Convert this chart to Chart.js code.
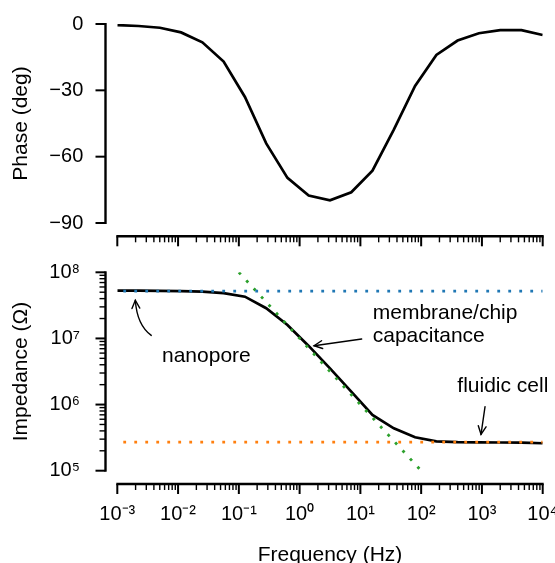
<!DOCTYPE html>
<html>
<head>
<meta charset="utf-8">
<script src="https://cdn.jsdelivr.net/npm/chart.js@4.4.1/dist/chart.umd.min.js"></script>
<style>
  html, body { margin: 0; padding: 0; background: #fff; overflow: hidden; }
  #wrap { position: relative; width: 555px; height: 563px; }
  canvas { position: absolute; left: 0; }
  #phase { top: 0; }
  #imped { top: 250px; }
</style>
</head>
<body>
<div id="wrap">
  <canvas id="phase" width="555" height="250"></canvas>
  <canvas id="imped" width="555" height="320"></canvas>
</div>
<script>
// measured spectrum (Hz)
const freqs = [0.001, 0.00224, 0.00501, 0.0112, 0.0251, 0.0562, 0.126, 0.282, 0.631,
  1.41, 3.16, 7.08, 15.8, 35.5, 79.4, 178, 398, 891, 2000, 4470, 10000];
const phaseDeg = [-0.5, -0.9, -1.7, -3.8, -8.3, -17.0, -33.0, -54.0, -69.6,
  -77.6, -79.7, -76.1, -66.3, -47.8, -28.0, -14.0, -7.5, -4.2, -2.8, -2.8, -5.0];
const impedance = [5.27e7, 5.27e7, 5.25e7, 5.2e7, 5.1e7, 4.85e7, 4.28e7, 2.86e7, 1.6e7,
  7.7e6, 3.53e6, 1.57e6, 6.95e5, 4.38e5, 3.2e5, 2.77e5, 2.7e5, 2.68e5, 2.67e5, 2.66e5, 2.6e5];

// model components
const nanoporeFreq = [0.001, 10000];
const nanoporeZ = [5.2e7, 5.2e7];
const fluidicFreq = [0.001, 10000];
const fluidicZ = [2.7e5, 2.7e5];
const capFreq = [0.1, 100];
const capZ = [1e8, 1e5];

const phaseTicks = [0, -30, -60, -90];

// annotations (data coords)
const noteText = ['nanopore', 'membrane/chip', 'capacitance', 'fluidic cell'];
const noteF = [5.44e-3, 15.96, 15.96, 393.6];
const noteZ = [4.41e6, 1.95e7, 8.9e6, 1.56e6];
// arrows: tail, (control), tip
const arrowTailF = [3.62e-3, 10.5, 1125];
const arrowTailZ = [1.11e7, 9.8e6, 9.29e5];
const arrowCtrlF = [2.11e-3, null, null];
const arrowCtrlZ = [1.6e7, null, null];
const arrowTipF = [1.98e-3, 1.73, 966];
const arrowTipZ = [3.78e7, 7.76e6, 3.55e5];

const FONT = "'Liberation Sans', Arial, sans-serif";
Chart.defaults.font.family = FONT;
Chart.defaults.color = '#000';

const SUP = {'0':'\u2070','1':'\u00b9','2':'\u00b2','3':'\u00b3','4':'\u2074','5':'\u2075',
  '6':'\u2076','7':'\u2077','8':'\u2078','9':'\u2079','-':'\u207b'};
function isPow10(v) {
  const l = Math.log10(v);
  return Math.abs(l - Math.round(l)) < 1e-6;
}
function powLabel(v) {
  if (!isPow10(v)) return '';
  const e = String(Math.round(Math.log10(v)));
  return '10' + e.split('').map(c => SUP[c]).join('');
}
const pts = (xs, ys) => xs.map((x, i) => ({x: x, y: ys[i]}));

// matplotlib-like detached spines
const offsetAxes = {
  id: 'offsetAxes',
  afterDraw(chart, args, opts) {
    const {ctx, chartArea} = chart;
    const xs = chart.scales.x, ys = chart.scales.y;
    const gap = opts.gap;
    ctx.save();
    ctx.strokeStyle = '#000';
    ctx.lineCap = 'butt';

    const tickVals = (sc) => {
      if (sc.type !== 'logarithmic') return sc.ticks.map(t => ({v: t.value, major: true}));
      const out = [];
      const e0 = Math.floor(Math.log10(sc.min)), e1 = Math.ceil(Math.log10(sc.max));
      for (let e = e0; e <= e1; e++) {
        for (let m = 1; m < 10; m++) {
          const v = m * Math.pow(10, e);
          if (v >= sc.min * 0.999 && v <= sc.max * 1.001) out.push({v: v, major: m === 1});
        }
      }
      return out;
    };

    // x spine
    const yx = chartArea.bottom + gap;
    const xl = xs.getPixelForValue(xs.min), xr = xs.getPixelForValue(xs.max);
    ctx.lineWidth = 2.4;
    ctx.beginPath(); ctx.moveTo(xl - 1, yx); ctx.lineTo(xr + 1, yx); ctx.stroke();
    tickVals(xs).forEach(t => {
      const px = xs.getPixelForValue(t.v);
      ctx.lineWidth = t.major ? 2 : 1.4;
      ctx.beginPath(); ctx.moveTo(px, yx); ctx.lineTo(px, yx + (t.major ? 10 : 6)); ctx.stroke();
    });

    // y spine
    const xy = chartArea.left - gap + 1.5;
    const yt = ys.getPixelForValue(ys.max), yb = ys.getPixelForValue(ys.min);
    ctx.lineWidth = 2.4;
    ctx.beginPath(); ctx.moveTo(xy, yt - 1); ctx.lineTo(xy, yb + 1); ctx.stroke();
    tickVals(ys).forEach(t => {
      const py = ys.getPixelForValue(t.v);
      ctx.lineWidth = t.major ? 2 : 1.4;
      ctx.beginPath(); ctx.moveTo(xy, py); ctx.lineTo(xy - (t.major ? 10 : 6), py); ctx.stroke();
    });
    ctx.restore();
  }
};

const notes = {
  id: 'notes',
  afterDraw(chart, args, opts) {
    if (!opts.show) return;
    const {ctx} = chart;
    const xs = chart.scales.x, ys = chart.scales.y;
    const P = (f, z) => [xs.getPixelForValue(f), ys.getPixelForValue(z)];
    ctx.save();
    ctx.fillStyle = '#000';
    ctx.font = '21px ' + FONT;
    ctx.textAlign = 'left';
    ctx.textBaseline = 'alphabetic';
    noteText.forEach((t, i) => {
      const [x, y] = P(noteF[i], noteZ[i]);
      ctx.fillText(t, x, y);
    });
    ctx.strokeStyle = '#000';
    ctx.lineWidth = 1.4;
    ctx.lineCap = 'round';
    arrowTipF.forEach((f, i) => {
      const [tx, ty] = P(arrowTailF[i], arrowTailZ[i]);
      const [hx, hy] = P(f, arrowTipZ[i]);
      let dx, dy;
      ctx.beginPath();
      ctx.moveTo(tx, ty);
      if (arrowCtrlF[i] !== null) {
        const [cx, cy] = P(arrowCtrlF[i], arrowCtrlZ[i]);
        ctx.quadraticCurveTo(cx, cy, hx, hy);
        dx = hx - cx; dy = hy - cy;
      } else {
        ctx.lineTo(hx, hy);
        dx = hx - tx; dy = hy - ty;
      }
      ctx.stroke();
      const a = Math.atan2(dy, dx), len = 9, spread = 0.45;
      ctx.beginPath();
      ctx.moveTo(hx - len * Math.cos(a - spread), hy - len * Math.sin(a - spread));
      ctx.lineTo(hx, hy);
      ctx.lineTo(hx - len * Math.cos(a + spread), hy - len * Math.sin(a + spread));
      ctx.stroke();
    });
    ctx.restore();
  }
};

function xAxis(showLabels, height) {
  return {
    type: 'logarithmic',
    position: 'bottom',
    min: 0.001,
    max: 10000,
    grid: {display: false, drawTicks: false},
    border: {display: false},
    ticks: {
      display: showLabels,
      autoSkip: false,
      maxRotation: 0,
      minRotation: 0,
      padding: 31.3,
      font: {size: 20},
      color: '#000',
      callback: (v) => powLabel(v)
    },
    title: {
      display: showLabels,
      text: 'Frequency (Hz)',
      font: {size: 21},
      color: '#000',
      padding: {top: 0, bottom: 2.4}
    },
    afterFit(s) { s.height = height; s.paddingLeft = 0; s.paddingRight = 0; }
  };
}

function yTitle(text) {
  return {display: true, text: text, font: {size: 21}, color: '#000', padding: {top: 8.9, bottom: 0}};
}

const common = {
  responsive: false,
  animation: false,
  events: [],
  plugins: {legend: {display: false}, tooltip: {enabled: false}, offsetAxes: {gap: 13.3}}
};

new Chart(document.getElementById('phase').getContext('2d'), {
  type: 'line',
  data: {
    datasets: [{
      data: pts(freqs, phaseDeg),
      borderColor: '#000',
      borderWidth: 2.7,
      pointRadius: 0,
      tension: 0
    }]
  },
  options: Object.assign({}, common, {
    layout: {padding: {left: 0, right: 12.3, top: 24, bottom: 0}},
    plugins: Object.assign({}, common.plugins, {notes: {show: false}}),
    scales: {
      x: xAxis(false, 27),
      y: {
        type: 'linear',
        min: -90,
        max: 0,
        grid: {display: false, drawTicks: false},
        border: {display: false},
        afterBuildTicks(s) { s.ticks = phaseTicks.map(v => ({value: v})); },
        ticks: {
          padding: 34,
          font: {size: 20},
          color: '#000',
          callback: (v) => v < 0 ? '\u2212' + Math.abs(v) : String(v)
        },
        title: yTitle('Phase (deg)'),
        afterFit(s) { s.width = 117.3; s.paddingTop = 0; s.paddingBottom = 0; }
      }
    }
  }),
  plugins: [offsetAxes, notes]
});

new Chart(document.getElementById('imped').getContext('2d'), {
  type: 'line',
  data: {
    datasets: [{
      data: pts(freqs, impedance),
      borderColor: '#000',
      borderWidth: 2.7,
      pointRadius: 0,
      tension: 0,
      order: 1
    }, {
      data: pts(nanoporeFreq, nanoporeZ),
      borderColor: '#1f77b4',
      borderWidth: 2.8,
      borderDash: [2.8, 8.2],
      borderDashOffset: 5,
      borderCapStyle: 'butt',
      pointRadius: 0,
      order: 0
    }, {
      data: pts(fluidicFreq, fluidicZ),
      borderColor: '#ff7f0e',
      borderWidth: 2.8,
      borderDash: [2.8, 8.2],
      borderDashOffset: 5,
      borderCapStyle: 'butt',
      pointRadius: 0,
      order: 0
    }, {
      data: pts(capFreq, capZ),
      borderColor: '#2ca02c',
      borderWidth: 2.8,
      borderDash: [2.8, 8.2],
      borderDashOffset: 0,
      borderCapStyle: 'butt',
      pointRadius: 0,
      order: 0
    }]
  },
  options: Object.assign({}, common, {
    layout: {padding: {left: 0, right: 12.3, top: 22.3, bottom: 0}},
    plugins: Object.assign({}, common.plugins, {notes: {show: true}}),
    scales: {
      x: xAxis(true, 99.3),
      y: {
        type: 'logarithmic',
        min: 1e5,
        max: 1e8,
        grid: {display: false, drawTicks: false},
        border: {display: false},
        ticks: {
          autoSkip: false,
          padding: 37.3,
          font: {size: 20},
          color: '#000',
          callback: (v) => powLabel(v)
        },
        title: yTitle('Impedance (\u03a9)'),
        afterFit(s) { s.width = 117.3; s.paddingTop = 0; s.paddingBottom = 0; }
      }
    }
  }),
  plugins: [offsetAxes, notes]
});
</script>
</body>
</html>
